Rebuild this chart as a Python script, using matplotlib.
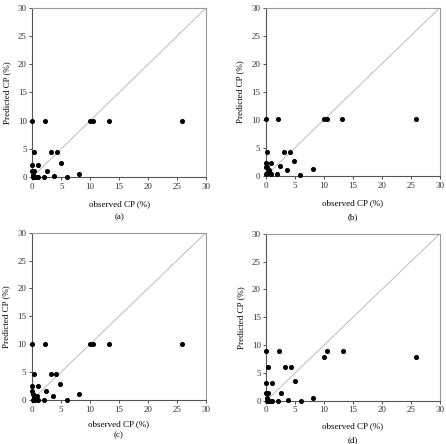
import matplotlib
matplotlib.use("Agg")
import matplotlib.pyplot as plt

plt.rcParams['font.family'] = ['Liberation Serif', 'DejaVu Serif']

# observed CP (%) - same for all four panels
observed = [0.0, 0.0, 0.0, 0.1, 0.2, 0.3, 0.3, 0.5, 0.8, 1.0, 1.0, 2.0,
            2.2, 2.5, 3.2, 3.7, 4.2, 4.9, 6.0, 8.1, 10.0, 10.5, 13.2, 25.9]

# predicted CP (%) for each panel
pred_a = [10.0, 2.2, 1.0, 0.0, 0.3, 4.5, 1.0, 0.0, 0.0, 2.2, 0.0, 0.0,
          10.0, 1.0, 4.5, 0.2, 4.5, 2.4, 0.0, 0.5, 10.0, 10.0, 10.0, 10.0]
pred_b = [10.2, 2.4, 1.6, 0.3, 0.6, 4.2, 1.6, 1.0, 0.5, 2.4, 0.3, 0.3,
          10.2, 1.7, 4.2, 1.0, 4.2, 2.6, 0.2, 1.3, 10.2, 10.2, 10.2, 10.2]
pred_c = [10.0, 2.6, 1.6, 0.0, 1.1, 4.7, 0.7, 0.0, 0.7, 2.6, 0.0, 0.0,
          10.0, 1.6, 4.7, 0.7, 4.7, 2.9, 0.0, 1.1, 10.0, 10.0, 10.0, 10.0]
pred_d = [8.9, 3.2, 1.3, 0.0, 0.4, 6.0, 1.3, 0.0, 0.0, 3.2, 0.0, 0.0,
          8.9, 1.3, 6.0, 0.2, 6.0, 3.6, 0.0, 0.4, 7.8, 8.9, 8.9, 7.8]

panel_labels = ["(a)", "(b)", "(c)", "(d)"]
ticks = [0, 5, 10, 15, 20, 25, 30]

fig = plt.figure(figsize=(4.46, 4.44), dpi=100)

# axes positions in figure fractions
positions = [
    [0.0724, 0.6014, 0.3895, 0.3806],
    [0.5957, 0.6036, 0.3900, 0.3784],
    [0.0717, 0.0991, 0.3900, 0.3768],
    [0.5970, 0.0975, 0.3890, 0.3761],
]
# vertical position (pixels from top) of the (a)...(d) captions
label_y = [217, 217, 435, 440]
xpads = [7, 7, 4.5, 6]
all_pred = [pred_a, pred_b, pred_c, pred_d]

for pos, pred, lab, ly, xp in zip(positions, all_pred, panel_labels, label_y, xpads):
    ax = fig.add_axes(pos)
    ax.plot([0, 30], [0, 30], color="#b0b0b0", lw=0.6, zorder=1)
    ax.scatter(observed, pred, s=7, color="black", zorder=3, clip_on=False)
    ax.set_xlim(0, 30)
    ax.set_ylim(0, 30)
    ax.set_xticks(ticks)
    ax.set_yticks(ticks)
    ax.tick_params(labelsize=6.5, length=2.5, width=0.6, pad=1.5,
                   colors="#333333")
    for s in ["left", "bottom"]:
        ax.spines[s].set_color("#555555")
        ax.spines[s].set_linewidth(0.8)
    for s in ["top", "right"]:
        ax.spines[s].set_color("#999999")
        ax.spines[s].set_linewidth(0.8)
    ax.set_xlabel("observed CP (%)", fontsize=6.5, labelpad=xp)
    ax.set_ylabel("Predicted CP (%)", fontsize=6.5, labelpad=5)
    fig.text(pos[0] + pos[2] / 2, 1 - ly / 444, lab,
             ha="center", va="center", fontsize=6.5)

fig.savefig("out.png", dpi=100)
